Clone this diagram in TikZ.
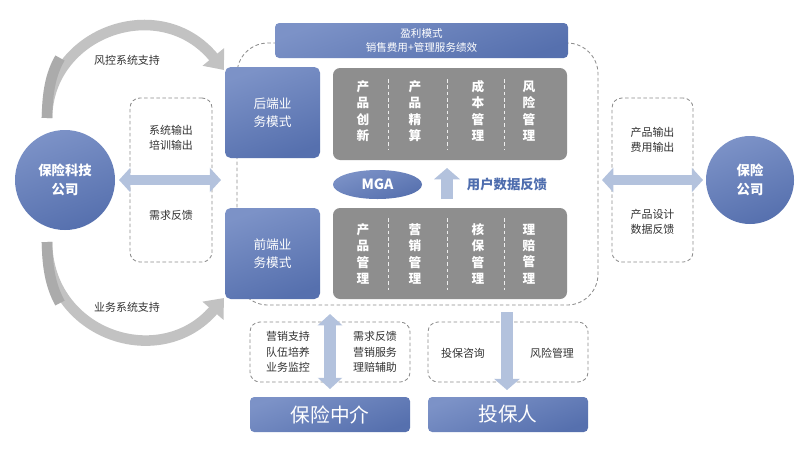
\documentclass[tikz,border=0pt]{standalone}
\usepackage{fontspec}
\setmainfont{Noto Sans CJK SC}
\usetikzlibrary{arrows.meta,shapes.geometric}
\definecolor{bluedark}{HTML}{5670AE}
\definecolor{bluelight}{HTML}{7C92C7}
\definecolor{arrowblue}{HTML}{B3C2DD}
\definecolor{boxgray}{HTML}{8E8E8E}
\definecolor{txt}{HTML}{333333}
\definecolor{dashgray}{HTML}{8C8C8C}
\definecolor{feedblue}{HTML}{4E6DAE}
\definecolor{arcgray}{HTML}{C2C2C2}
\definecolor{arcdark}{HTML}{ABABAB}
\def\pxu{0.025cm}
\tikzset{
  bluebox/.style={rounded corners=4pt, top color=bluelight, bottom color=bluedark, shading angle=20, text=white, align=center, inner sep=0pt},
  graybox/.style={rounded corners=5pt, fill=boxgray, inner sep=0pt},
  dashbox/.style={draw=dashgray, dash pattern=on 2.5pt off 1.8pt, line width=0.6pt, rounded corners=7pt, inner sep=0pt},
  region/.style={draw=dashgray, dash pattern=on 2.5pt off 1.8pt, line width=0.6pt, rounded corners=22pt, inner sep=0pt},
  vtext/.style={text=white, align=center, font=\fontsize{9}{11.6}\selectfont\bfseries},
  sidetext/.style={text=txt, align=center, font=\fontsize{7.8}{11}\selectfont},
  sep/.style={draw=white!85!boxgray, dash pattern=on 2.5pt off 2pt, line width=0.7pt},
  dblarrow/.style={draw=arrowblue, line width=7.5pt, {Triangle[length=8pt,width=17pt]}-{Triangle[length=8pt,width=17pt]}},
  onearrow/.style={draw=arrowblue, line width=8.5pt, -{Triangle[length=8pt,width=18pt]}},
  arcarrow/.style={draw=arcgray, line width=7.5pt, -{Triangle[length=12pt,width=19pt]}},
  arctail/.style={draw=arcdark, line width=7.5pt},
  circ/.style={circle, top color=bluelight, bottom color=bluedark, shading angle=20, text=white, align=center, inner sep=0pt, font=\fontsize{9.5}{14}\selectfont\bfseries}
}
\begin{document}
\begin{tikzpicture}[x=0.025cm,y=-0.025cm]
\useasboundingbox (0,0) rectangle (800,450);
\fill[white] (0,0) rectangle (800,450);

% big dashed region
\node[region, minimum width=361*\pxu, minimum height=262*\pxu] (mgaregion) at (417.5,174) {};

% profit bar
\node[bluebox, rounded corners=3pt, minimum width=293*\pxu, minimum height=35*\pxu, font=\fontsize{7.5}{10}\selectfont] (profit) at (421.5,40.5) {盈利模式\\销售费用+管理服务绩效};

% back / front boxes
\node[bluebox, minimum width=95*\pxu, minimum height=91*\pxu, font=\fontsize{9}{13}\selectfont] (back) at (272.5,112.5) {后端业\\务模式};
\node[bluebox, minimum width=95*\pxu, minimum height=91*\pxu, font=\fontsize{9}{13}\selectfont] (front) at (272.5,253.5) {前端业\\务模式};

% gray boxes
\node[graybox, minimum width=234*\pxu, minimum height=92*\pxu] (grayt) at (450,114) {};
\node[graybox, minimum width=234*\pxu, minimum height=91*\pxu] (grayb) at (450,253.5) {};

\node[vtext] (t1) at (363,111) {产\\品\\创\\新};
\node[vtext] (t2) at (415,111) {产\\品\\精\\算};
\node[vtext] (t3) at (478,111) {成\\本\\管\\理};
\node[vtext] (t4) at (529,111) {风\\险\\管\\理};
\coordinate (s1a) at (388,79); \coordinate (s1b) at (388,150);
\coordinate (s2a) at (447,79); \coordinate (s2b) at (447,150);
\coordinate (s3a) at (504,79); \coordinate (s3b) at (504,150);
\draw[sep] (s1a) -- (s1b); \draw[sep] (s2a) -- (s2b); \draw[sep] (s3a) -- (s3b);

\node[vtext] (b1) at (363,254) {产\\品\\管\\理};
\node[vtext] (b2) at (415,254) {营\\销\\管\\理};
\node[vtext] (b3) at (478,254) {核\\保\\管\\理};
\node[vtext] (b4) at (529,254) {理\\赔\\管\\理};
\coordinate (u1a) at (388,218); \coordinate (u1b) at (388,290);
\coordinate (u2a) at (447,218); \coordinate (u2b) at (447,290);
\coordinate (u3a) at (504,218); \coordinate (u3b) at (504,290);
\draw[sep] (u1a) -- (u1b); \draw[sep] (u2a) -- (u2b); \draw[sep] (u3a) -- (u3b);

% MGA
\node[ellipse, top color=bluelight, bottom color=bluedark, shading angle=20, minimum width=89*\pxu, minimum height=29*\pxu, inner sep=0pt, text=white, font=\fontsize{10}{12}\selectfont\bfseries] (mga) at (377.5,184.5) {MGA};
\coordinate (upa) at (447,199); \coordinate (upb) at (447,168);
\draw[onearrow, line width=9pt] (upa) -- (upb);
\node[text=feedblue, font=\fontsize{9.5}{12}\selectfont\bfseries] (feed) at (507,184) {用户数据反馈};

% left side
\node[circ, minimum size=100*\pxu] (tech) at (65,180) {保险科技\\公司};
\node[dashbox, minimum width=82*\pxu, minimum height=164*\pxu] (lbox) at (171,180) {};
\node[sidetext] (lt1) at (171,138) {系统输出\\培训输出};
\node[sidetext] (lt2) at (171,215) {需求反馈};
\coordinate (la1) at (119,180); \coordinate (la2) at (221,180);
\draw[dblarrow] (la1) -- (la2);

% arcs
\coordinate (arc1s) at (47,118); \coordinate (arc1e) at (224,70);
\draw[arcarrow] (arc1s) .. controls (48,32) and (160,-8) .. (arc1e);
\draw[arctail] (arc1s) .. controls (47.3,95) and (50,75) .. (60,58);
\node[sidetext] (arc1l) at (127,60) {风控系统支持};
\coordinate (arc2s) at (47,242); \coordinate (arc2e) at (224,298);
\draw[arcarrow] (arc2s) .. controls (48,335) and (160,372) .. (arc2e);
\draw[arctail] (arc2s) .. controls (47.3,265) and (50,285) .. (60,303);
\node[sidetext] (arc2l) at (127,307) {业务系统支持};

% right side
\node[circ, minimum size=88*\pxu] (ins) at (750,180) {保险\\公司};
\node[dashbox, minimum width=81*\pxu, minimum height=164*\pxu] (rbox) at (652.5,180) {};
\node[sidetext] (rt1) at (652.5,140) {产品输出\\费用输出};
\node[sidetext] (rt2) at (652.5,222) {产品设计\\数据反馈};
\coordinate (ra1) at (602,180); \coordinate (ra2) at (703,180);
\draw[dblarrow] (ra1) -- (ra2);

% bottom
\node[dashbox, minimum width=160*\pxu, minimum height=60*\pxu] (bl) at (330,352) {};
\node[dashbox, minimum width=160*\pxu, minimum height=60*\pxu] (br) at (508,352) {};
\node[sidetext] (blt1) at (288,352) {营销支持\\队伍培养\\业务监控};
\node[sidetext] (blt2) at (375,352) {需求反馈\\营销服务\\理赔辅助};
\node[sidetext] (brt1) at (463,353) {投保咨询};
\node[sidetext] (brt2) at (552,353) {风险管理};
\coordinate (va1) at (330,314); \coordinate (va2) at (330,389);
\draw[dblarrow, line width=9pt] (va1) -- (va2);
\coordinate (da1) at (507,312); \coordinate (da2) at (507,390);
\draw[onearrow] (da1) -- (da2);

\node[bluebox, rounded corners=3pt, minimum width=160*\pxu, minimum height=35*\pxu, font=\fontsize{14}{16}\selectfont] (agent) at (330,414.5) {保险中介};
\node[bluebox, rounded corners=3pt, minimum width=160*\pxu, minimum height=35*\pxu, font=\fontsize{14}{16}\selectfont] (holder) at (508,414.5) {投保人};
\end{tikzpicture}
\end{document}
